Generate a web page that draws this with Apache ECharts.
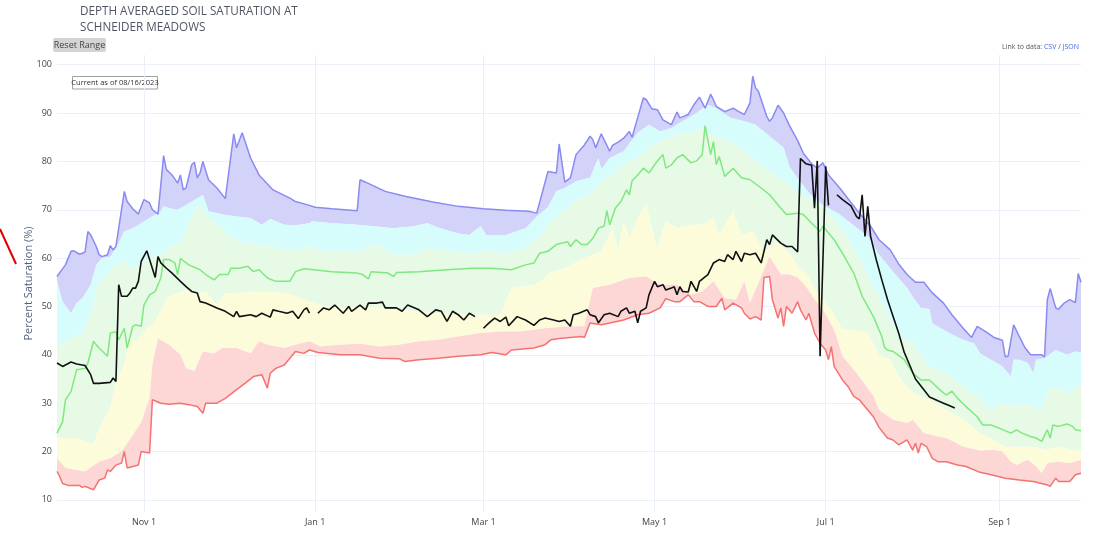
<!DOCTYPE html>
<html>
<head>
<meta charset="utf-8">
<script src="https://cdn.jsdelivr.net/npm/echarts@6/dist/echarts.min.js"></script>
<style>
html,body{margin:0;padding:0;background:#fff;}
#chart{width:1102px;height:534px;}
</style>
</head>
<body>
<div id="chart"></div>
<script>
// x values are day of the water year (0 = Oct 1), y values are percent saturation
const maxSat = [[0,56.2],[3,58.6],[5,61.4],[6,61.5],[8,60.8],[9,61],[10,61.3],[11,65.5],[12,64.8],[14,62.4],[15,60.7],[16,60.3],[18,60.7],[19,62.6],[20,61.7],[21,62.4],[22,66.2],[24,73.8],[25,71.7],[27,70.2],[29,69.1],[31,72.1],[33,71.4],[34,70],[36,69.1],[38,81.2],[39,78.3],[41,77.2],[43,75.5],[44,77.2],[45,74.1],[46,74.5],[48,79.3],[49,79.8],[50,76.6],[51,77.6],[52,80],[54,76.2],[57,74.5],[60,72.3],[63,85.7],[64,82.8],[66,85.9],[69,80.7],[72,77.2],[77,74.1],[83,72.4],[85,71.7],[90,70.9],[92,70.5],[98,70.2],[107,69.8],[108,76.2],[110,75.7],[117,73.8],[124,72.8],[134,71.6],[143,70.7],[152,70.2],[160,69.9],[168,69.7],[171,69.3],[175,77.9],[178,77.6],[179,83.6],[181,75.7],[183,76.6],[185,81.4],[188,83.4],[190,85.2],[191,84.5],[192,82.8],[194,85.7],[197,82.1],[198,83.3],[200,84],[202,84.8],[204,86.2],[205,85],[207,89.1],[209,93.1],[210,92.8],[212,90.9],[214,90.7],[216,88.6],[219,87.6],[221,90.2],[222,89],[225,89.7],[227,91.7],[229,93.3],[231,91],[233,93.9],[235,91.4],[238,90.3],[241,91],[243,90.3],[245,89.7],[247,92.1],[248,97.6],[249,95.2],[250,94.5],[253,89.3],[254,88.3],[255,89],[257,91.6],[259,90],[261,87.5],[264,84.3],[266,81.7],[269,79.5],[271,78.6],[273,79.7],[275,77.2],[279,74.5],[285,70],[290,66.6],[293,63.8],[297,61.7],[300,58.8],[303,56.6],[306,55],[309,55],[312,52.8],[316,50.7],[319,48.3],[323,45.5],[326,43.6],[328,45.9],[331,44.8],[334,43.6],[337,43],[338,39.6],[339,39.7],[341,46.2],[343,43.8],[345,41.5],[347,40],[351,40],[352,39.6],[353,51.4],[354,53.7],[356,49.7],[357,49.4],[359,50.7],[361,51.4],[363,50.8],[364,56.8],[365,55]];
const p90Sat = [[0,55.2],[2,51],[5,48.6],[7,50.7],[9,51.7],[12,54.5],[14,58.6],[16,60],[19,60.3],[21,62.1],[24,65.5],[27,66.2],[30,67.2],[33,68.3],[37,69.7],[38,70.7],[40,70.3],[43,70],[46,71],[50,72.4],[52,73.1],[54,69.7],[59,69],[64,68.6],[69,68.3],[73,66.9],[76,68.1],[81,66.9],[85,66.8],[90,67.2],[91,67.6],[98,67.2],[105,67],[113,66.6],[120,66.2],[127,66.6],[132,67.2],[136,66.3],[143,65.1],[147,64.8],[151,66.6],[153,64.8],[160,64.8],[167,66.2],[171,68.6],[175,70.5],[178,73.8],[181,74.5],[185,75.9],[190,76.6],[193,80.7],[194,78.3],[197,80.7],[202,82.1],[207,85.9],[211,87.6],[215,86.2],[219,86.9],[223,88.3],[228,90],[232,91.7],[235,91],[240,89],[245,88.3],[249,87.6],[254,85.2],[259,82.8],[261,79],[264,76.5],[268,73.5],[273,71],[279,69],[285,66.3],[289,64.5],[293,60.7],[298,57.2],[303,53.8],[305,52],[308,49.7],[311,49.5],[312,46.5],[317,44.8],[322,43.3],[327,42.3],[329,40.3],[334,38.6],[337,37.6],[340,35.5],[341,39],[343,39],[346,38.3],[348,36.2],[349,39],[352,39.3],[356,41],[360,40],[363,40.7],[365,40.5]];
const p70Sat = [[0,42.8],[2,42.1],[5,43.4],[7,44.1],[9,44.1],[12,48.3],[15,55.2],[18,56.6],[21,58.6],[24,59.3],[26,57.9],[30,58.6],[33,60],[37,60.7],[40,62.1],[44,63.4],[47,66.9],[50,71],[53,69],[57,66.9],[61,64.8],[65,63.4],[71,62.8],[76,62.4],[81,61.7],[85,61.7],[90,62.4],[94,61.4],[101,61.4],[108,61.4],[114,62.8],[120,60.7],[127,60.7],[132,62.1],[139,61.4],[146,61],[153,61.4],[160,61],[167,62.1],[172,64.5],[176,67.6],[181,69.8],[185,71.9],[190,73.1],[194,76],[197,76.6],[202,79.4],[207,80.7],[211,82.8],[216,84.5],[221,85.5],[226,85.9],[230,86.9],[235,85.2],[240,84.1],[245,82.1],[249,80.1],[254,77.9],[259,75.9],[261,75.2],[264,73.5],[268,72.5],[273,70.7],[279,66.6],[285,61],[291,54.1],[297,47.2],[300,44],[305,42.4],[311,37.6],[317,36.2],[323,33.4],[329,31],[333,28.6],[336,30],[341,29.3],[344,30],[348,29.3],[351,28.6],[353,32.1],[354,33.4],[357,32.8],[361,32.1],[365,34]];
const medianSat = [[0,23.8],[2,26.2],[3,30.7],[5,32.4],[7,36.9],[10,37.2],[11,38.3],[13,42.8],[15,41.4],[18,39.7],[19,44.5],[21,44.8],[22,43.1],[24,45.5],[25,41.4],[27,45.9],[28,46.2],[30,45.9],[31,50.3],[33,52.4],[35,53.1],[37,55.9],[38,59.7],[40,59.7],[42,59],[43,56.6],[44,59.9],[47,58.6],[51,57.6],[53,56.6],[56,55.5],[58,56.6],[61,56.6],[62,57.9],[65,57.9],[68,58.3],[70,57.2],[72,57.6],[75,55.9],[78,55.2],[83,55.2],[85,57.2],[88,57.8],[90,57.7],[98,57.2],[107,56.9],[109,56.6],[111,55.7],[112,57.2],[118,56.9],[120,56.2],[121,57],[129,57.2],[139,57.6],[148,57.9],[155,57.9],[162,57.6],[167,58.6],[170,59],[172,61],[175,61.4],[178,62.8],[182,63.4],[183,62.4],[185,63.8],[187,62.8],[189,62.8],[191,64.1],[193,66.2],[195,66.6],[196,69.8],[197,66.9],[199,70.3],[201,71.7],[203,74.1],[204,73.1],[205,76],[207,77.2],[209,78.6],[211,77.6],[214,80.1],[216,81.4],[217,78.6],[219,79.3],[221,80.7],[223,81.4],[226,79.7],[228,80.1],[230,81.4],[231,87.4],[233,81.4],[234,84.1],[235,79.3],[236,81],[238,76.9],[241,78.6],[244,76.6],[247,76.2],[251,74.5],[254,73.1],[258,70.3],[260,69],[264,69.3],[266,69],[269,67.2],[272,65.5],[273,66.6],[277,63.8],[280,61],[284,56.9],[287,52.1],[291,47.9],[294,43.8],[295,41.5],[296,41],[298,40.7],[302,39],[305,36.2],[308,34.8],[311,34.8],[315,32.6],[317,31.7],[319,32.5],[321,31],[324,29.3],[328,27.2],[330,25.5],[333,25.5],[336,24.8],[340,23.8],[342,24.5],[344,23.8],[347,23.1],[349,22.8],[351,22.1],[353,24.5],[354,22.8],[355,25.5],[357,25.2],[360,25.7],[362,25.2],[363,24.5],[365,24.3]];
const p30Sat = [[0,22.8],[3,22.8],[7,22.8],[10,22.1],[13,21.4],[15,24.8],[19,29],[21,34.5],[24,37.9],[26,43.4],[28,42.8],[32,45.5],[35,46.9],[39,51.7],[43,52.8],[46,53.4],[50,52.4],[53,53.1],[57,50.3],[60,52.8],[64,52.6],[69,53.1],[73,53],[78,53],[83,52.6],[88,51.4],[90,51],[94,50.3],[101,49.7],[108,50],[115,49.7],[122,49.3],[129,49],[136,48.6],[143,48.3],[151,48.3],[158,48.3],[161,52.4],[162,53.8],[170,54.5],[174,55.9],[176,57.2],[181,57.9],[188,60],[194,61.4],[198,66.2],[200,61.4],[202,67.6],[204,64.1],[207,68.3],[210,71],[214,62.1],[217,67.6],[221,66.2],[226,66.9],[230,66.9],[234,68.3],[236,64.8],[241,69.7],[244,64.8],[248,65.5],[252,61.4],[257,63.4],[261,61],[264,58.5],[267,56.9],[271,52.8],[276,49.3],[280,45.2],[284,45.2],[289,44.5],[293,40],[297,39],[300,35.5],[305,32.1],[311,30.7],[317,28.6],[323,26.6],[329,23.8],[334,22.4],[338,21],[343,21],[348,21],[353,20.3],[357,21],[362,20.3],[365,20]];
const p10Sat = [[0,18.6],[3,16.6],[7,16.2],[10,15.9],[15,17.9],[19,18.6],[23,20],[26,22.5],[30,26],[33,31],[34,38],[36,43.4],[40,42.1],[44,40],[46,37.2],[49,36.6],[52,40.7],[56,40.3],[59,41.4],[64,41.4],[69,40.3],[72,42.8],[75,42.1],[81,41.4],[85,42.1],[90,42.8],[94,41.7],[101,42.1],[108,42.3],[115,41.7],[122,42.1],[129,42.8],[136,43.1],[143,43.8],[151,44.5],[158,44.8],[165,44.8],[170,45.2],[174,45.5],[183,45.9],[188,45.9],[191,53.8],[197,54.5],[204,55.9],[210,56.2],[215,54.5],[221,54.5],[226,52.4],[230,53.1],[234,55.2],[238,51.7],[242,51.4],[245,55.2],[247,50.7],[252,57.6],[254,60.3],[258,56.6],[261,56.6],[264,56],[267,54.1],[270,51.5],[273,49.3],[277,45.2],[280,39.7],[285,36.2],[291,31.5],[293,28.6],[298,26.6],[303,25.9],[305,26.6],[309,23.8],[314,23.1],[317,22.8],[323,21],[329,20.2],[334,20.3],[337,20],[340,17.9],[342,17.2],[346,18.3],[349,16.9],[351,15.5],[353,17.6],[357,17.9],[361,17.6],[365,18.3]];
const minSat = [[0,15.9],[1,14.8],[2,13.4],[4,13],[8,13],[9,12.6],[10,12.8],[13,12.1],[15,14.1],[17,14.5],[18,16.2],[19,15.9],[21,17.2],[23,17.6],[24,20],[25,16.6],[27,16.9],[29,17.2],[30,20],[33,19.7],[34,30.7],[37,30],[40,29.8],[44,30],[47,29.7],[50,29.3],[52,27.9],[53,30],[57,30],[60,31],[64,32.8],[67,34.1],[70,35.5],[73,35.9],[75,33.1],[76,36.2],[78,37.2],[81,37.9],[83,39.3],[85,40.7],[88,40.3],[90,41],[93,40.5],[101,40],[108,40],[115,39.3],[122,39.2],[124,38.6],[129,39],[136,39.3],[143,39.7],[151,40],[155,40.5],[160,40],[162,41],[170,41.4],[174,42.1],[176,43.1],[179,43.4],[183,43.6],[187,43.8],[188,43.6],[190,46.6],[194,46.2],[197,46.6],[202,47.2],[207,48.3],[211,48.6],[215,49.7],[217,51.6],[220,51],[222,51],[225,52.4],[227,51],[229,51],[232,50],[235,50],[237,51.7],[238,49.3],[241,50.7],[244,49.7],[245,48.6],[247,47.4],[249,47.9],[251,47.2],[252,56],[254,56.2],[255,51.4],[257,47.6],[258,49.7],[259,45.9],[260,50],[262,48.6],[264,51],[265,49.3],[267,47.2],[268,48.6],[270,44.5],[272,42.4],[274,41],[275,39],[276,41.7],[277,37.6],[280,34.8],[282,33.4],[284,31.4],[286,30.7],[289,28.6],[291,27.2],[293,25],[296,22.8],[298,22.4],[300,21.4],[303,22.4],[305,20.3],[306,21.7],[307,19.7],[308,21.7],[310,21],[312,18.6],[314,17.9],[317,17.9],[321,17.2],[324,16.9],[329,15.7],[333,15.2],[338,14.5],[343,14.1],[348,13.8],[353,13.1],[354,12.8],[356,14.5],[357,13.8],[361,13.8],[363,15.2],[365,15.5]];
// current water year; '-' marks a gap in the record
const currentSat = [[0,38.3],[2,37.6],[5,38.5],[7,38.1],[10,37.8],[12,35.9],[13,34.1],[15,34.1],[19,34.3],[20,35.2],[21,34.5],[22,54.5],[23,52.1],[25,52.1],[26,52.8],[27,53.8],[28,53.8],[29,55.2],[30,59.3],[32,61.5],[33,59.7],[35,56],[36,60.3],[37,59],[39,57.9],[41,56.9],[44,55.2],[46,54.1],[48,53.1],[50,52.8],[51,51],[53,50.7],[57,49.7],[60,49],[63,47.9],[64,49],[65,47.9],[69,48.3],[71,47.9],[73,48.6],[76,47.8],[77,49.3],[79,49],[82,48.6],[84,49],[86,47.5],[88,49.3],[89,49.7],[90,48.6],[91,'-'],[93,48.6],[95,49.7],[97,49.3],[99,50.3],[102,48.6],[104,50],[105,49],[108,50.3],[110,49.3],[111,50.7],[114,50.7],[116,50.9],[117,49.7],[121,49.7],[123,49],[125,50.3],[129,49.3],[132,47.9],[135,49.3],[137,49],[139,46.9],[141,49],[143,48.3],[145,47.2],[147,48.6],[149,47.9],[150,'-'],[152,45.5],[154,46.6],[156,47.6],[158,46.9],[160,47.8],[161,46],[164,47.9],[167,47.2],[170,46.1],[172,47.2],[174,47.6],[177,47.2],[179,46.9],[181,47.2],[183,45.9],[184,48.3],[186,48.6],[189,49.3],[190,48.3],[192,47.9],[193,46.6],[195,48.3],[197,48.6],[200,47.9],[201,49],[203,49.7],[204,48.6],[206,49],[207,46.6],[208,49],[210,49.7],[211,52.4],[213,55.2],[214,54.1],[216,54.5],[217,53.4],[219,53.8],[220,54.1],[221,52.4],[222,54.1],[223,53.1],[225,53],[226,55.2],[228,53.1],[229,55.2],[232,56.6],[234,59],[236,59.7],[238,59.3],[239,60.7],[241,59.7],[242,61.4],[244,59.3],[245,61],[247,60.7],[249,61],[251,59],[253,63.8],[254,62.8],[255,64.8],[258,63.1],[260,62.4],[262,62.4],[264,61.3],[265,80.6],[267,79.5],[269,79.2],[270,70.3],[271,80.1],[272,39.7],[274,79],[275,70.9],[276,'-'],[278,73.1],[280,72.1],[283,70.8],[285,68.6],[286,68.1],[287,73.1],[288,64.5],[289,70.7],[290,64.5],[292,59.7],[294,55.5],[296,51.5],[298,48],[300,44.5],[302,40.5],[304,37.8],[306,35],[309,32.8],[311,31.3],[314,30.5],[316,30],[318,29.5],[320,29]];

const xTickDays = [31, 92, 152, 213, 274, 336];
const xTickLabels = ['Nov 1', 'Jan 1', 'Mar 1', 'May 1', 'Jul 1', 'Sep 1'];
const yTicks = [10, 20, 30, 40, 50, 60, 70, 80, 90, 100];

const FONT = '"Open Sans", "Liberation Sans", sans-serif';

function band(upper, lower, color) {
  return {
    type: 'custom', coordinateSystem: 'cartesian2d', silent: true, clip: true, z: 1,
    data: [[180, 50]],
    renderItem: function (params, api) {
      const pts = upper.map(p => api.coord(p)).concat(lower.slice().reverse().map(p => api.coord(p)));
      return { type: 'polygon', shape: { points: pts }, style: { fill: color } };
    }
  };
}
function line(data, color, width, z) {
  return {
    type: 'line', data: data, showSymbol: false, symbol: 'none', silent: true, connectNulls: false,
    lineStyle: { color: color, width: width }, z: z, animation: false
  };
}

const chart = echarts.init(document.getElementById('chart'), null, { renderer: 'canvas' });
chart.setOption({
  animation: false,
  backgroundColor: '#ffffff',
  title: {
    text: 'DEPTH AVERAGED SOIL SATURATION AT\nSCHNEIDER MEADOWS',
    left: 80, top: 4, padding: 0,
    textStyle: { fontFamily: FONT, fontSize: 11.7, fontWeight: 'normal', color: '#4f5563', lineHeight: 16 }
  },
  grid: { left: 57, right: 21, top: 55, bottom: 22 },
  xAxis: {
    type: 'value', min: 0, max: 365,
    axisLine: { show: false },
    axisTick: { show: false, customValues: xTickDays },
    axisLabel: {
      customValues: xTickDays, margin: 6,
      formatter: v => xTickLabels[xTickDays.indexOf(v)] || '',
      fontFamily: FONT, fontSize: 9, color: '#444'
    },
    splitLine: { show: true, lineStyle: { color: '#ebf0f8', width: 1 } }
  },
  yAxis: {
    type: 'value', min: 7.5, max: 102,
    name: 'Percent Saturation (%)', nameLocation: 'middle', nameGap: 23, nameRotate: 90,
    nameMoveOverlap: false,
    nameTextStyle: { fontFamily: FONT, fontSize: 11, color: '#506080' },
    axisLine: { show: false },
    axisTick: { show: false, customValues: yTicks },
    axisLabel: { customValues: yTicks, margin: 5, fontFamily: FONT, fontSize: 9, color: '#444' },
    splitLine: { show: true, lineStyle: { color: '#ebf0f8', width: 1 } }
  },
  series: [
    band(maxSat, p90Sat, '#d3d3fa'),
    band(p90Sat, p70Sat, '#d6fcfc'),
    band(p70Sat, p30Sat, '#e6fae6'),
    band(p30Sat, p10Sat, '#fcfcda'),
    band(p10Sat, minSat, '#fdd6d6'),
    line(maxSat, '#8a8af2', 1.5, 3),
    line(minSat, '#f47272', 1.5, 3),
    line(medianSat, '#80e880', 1.5, 3),
    line(currentSat, '#111111', 1.6, 4)
  ],
  graphic: [
    { type: 'line', shape: { x1: 0, y1: 229, x2: 16, y2: 264 }, style: { stroke: '#e00000', lineWidth: 2 } },
    { type: 'rect', shape: { x: 53, y: 38, width: 53, height: 14, r: 2 }, style: { fill: '#d4d4d4' } },
    { type: 'text', x: 79.5, y: 45, style: { text: 'Reset Range', font: '9px ' + FONT, fill: '#444', align: 'center', verticalAlign: 'middle' } },
    { type: 'rect', shape: { x: 72.5, y: 76.5, width: 85, height: 12.5 }, style: { fill: '#fff', stroke: '#a0a0a0', lineWidth: 1 } },
    { type: 'text', x: 115, y: 83, style: { text: 'Current as of 08/16/2023', font: '7.5px ' + FONT, fill: '#333', align: 'center', verticalAlign: 'middle' } },
    { type: 'text', x: 1079, y: 47, style: {
        text: '{a|Link to data: }{b|CSV}{a| / }{b|JSON}', align: 'right', verticalAlign: 'middle',
        rich: {
          a: { fontSize: 7, fontFamily: FONT, fill: '#555', color: '#555' },
          b: { fontSize: 7, fontFamily: FONT, fill: '#4169e1', color: '#4169e1' }
        } } }
  ]
});
</script>
</body>
</html>
